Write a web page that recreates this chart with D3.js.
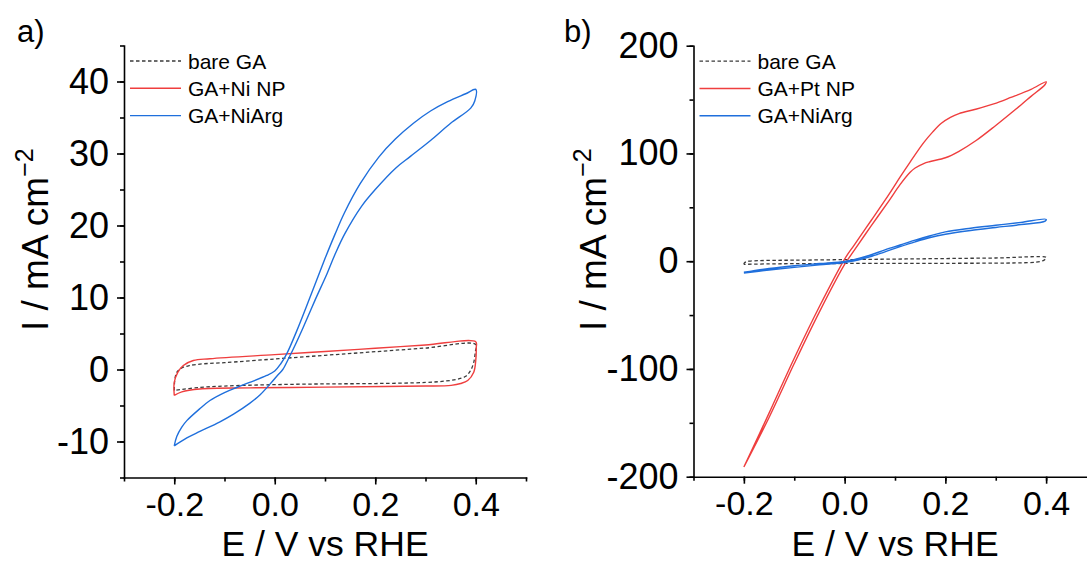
<!DOCTYPE html>
<html>
<head>
<meta charset="utf-8">
<script src="https://cdn.jsdelivr.net/npm/d3@7"></script>
<style>
	body { margin: 0; background: #fff; }
	svg { display: block; font-family: Arial, 'Liberation Sans', sans-serif; }
</style>
</head>
<body>
<script>
// cyclic voltammograms, [E (V vs RHE), I (mA cm-2)]
var bareGA = [[-0.2,-2.9],[-0.199,-1.5],[-0.195,-0.4],[-0.187,0.15],[-0.17,0.55],[-0.14,0.8],[-0.1,0.95],[0.0,1.46],[0.1,1.97],[0.2,2.47],[0.3,2.98],[0.4,3.48],
	[0.399,2.4],[0.396,1.0],[0.39,-0.1],[0.38,-0.95],[0.363,-1.35],[0.34,-1.6],[0.3,-1.8],[0.2,-1.95],[0.1,-2.0],[0.0,-2.1],[-0.1,-2.3],[-0.15,-2.5],[-0.2,-2.9]];

var niNP = [[-0.2,-3.6],[-0.2,-1.8],[-0.193,-0.4],[-0.182,0.56],[-0.162,1.25],[-0.129,1.5],[0.0,2.07],[0.1,2.5],[0.2,2.95],[0.3,3.4],[0.4,3.85],
	[0.401,3.0],[0.4,1.25],[0.396,-0.37],[0.384,-1.53],[0.37,-1.95],[0.351,-2.2],[0.3,-2.3],[0.218,-2.37],[0.1,-2.45],[-0.049,-2.55],[-0.149,-2.7],[-0.185,-3.1],[-0.2,-3.6]];

var niArgA = [[-0.2,-10.6],[-0.195,-9.3],[-0.185,-8.0],[-0.175,-7.1],[-0.15,-5.5],[-0.129,-4.3],[-0.1,-3.2],[-0.076,-2.5],[-0.05,-1.8],[-0.016,-0.83],[0.0,-0.2],[0.012,0.8],[0.024,2.2],[0.044,5.4],[0.07,10.0],[0.1,15.4],[0.12,18.8],[0.139,21.8],[0.17,25.8],[0.207,29.5],[0.24,32.0],[0.276,34.2],[0.31,35.9],[0.344,37.2],[0.38,38.3],[0.4,38.9],
	[0.398,37.3],[0.39,36.3],[0.35,34.2],[0.31,31.8],[0.27,29.6],[0.241,28.0],[0.2,25.0],[0.173,22.7],[0.139,18.8],[0.12,16.0],[0.104,13.3],[0.08,9.6],[0.057,5.9],[0.04,3.3],[0.028,1.6],[0.016,0.0],[0.007,-0.7],[-0.009,-2.0],[-0.029,-3.5],[-0.05,-4.7],[-0.082,-6.2],[-0.11,-7.3],[-0.149,-8.6],[-0.175,-9.5],[-0.2,-10.6]];

var ptNP = [[-0.2,-191],[-0.15,-141],[-0.1,-90],[-0.05,-42],[0.0,2],[0.019,15],[0.053,38],[0.088,62],[0.11,78],[0.13,92],[0.157,110],[0.175,120],[0.192,128],[0.21,133.5],[0.227,137],[0.26,141],[0.296,146],[0.33,152],[0.37,159.5],[0.4,166.5],
	[0.398,164],[0.37,153],[0.35,145],[0.3,126],[0.261,112],[0.227,102],[0.2,96],[0.17,92.5],[0.157,90.6],[0.14,86.5],[0.13,82.5],[0.11,71],[0.088,56],[0.053,33],[0.019,10],[0.0,-3],[-0.05,-47],[-0.1,-95],[-0.15,-145],[-0.2,-191]];

var niArgB = [[-0.2,-10.3],[-0.15,-6.8],[-0.1,-4.2],[-0.05,-2.2],[0.0,-0.3],[0.02,1.6],[0.05,5.5],[0.08,10.5],[0.11,15],[0.14,19.5],[0.17,23.6],[0.2,27.2],[0.25,30.6],[0.3,33.3],[0.35,36],[0.4,38.9],
	[0.398,37.2],[0.35,34.0],[0.3,31.3],[0.25,28.5],[0.2,25.0],[0.17,22.0],[0.14,18.0],[0.11,13.5],[0.08,8.7],[0.05,4.0],[0.02,0.3],[0.0,-1.2],[-0.05,-3.4],[-0.1,-5.7],[-0.15,-8.2],[-0.2,-11.0]];

var xTicks = [-0.2, 0.0, 0.2, 0.4];
var yTicksA = [-10, 0, 10, 20, 30, 40];
var yTicksB = [-200, -100, 0, 100, 200];
var legendA = ['bare GA', 'GA+Ni NP', 'GA+NiArg'];
var legendB = ['bare GA', 'GA+Pt NP', 'GA+NiArg'];

var colors = { bare: '#3a3a3a', red: '#ef3e3e', blue: '#1f6fdc' };

var svg = d3.select('body').append('svg')
	.attr('width', 1087)
	.attr('height', 564);

function hyphen(s) { return s.replace('\u2212', '-'); }

function drawPanel(p) {
	var x = d3.scaleLinear().domain([-0.3, 0.5]).range([p.left, p.right]);
	var y = d3.scaleLinear().domain(p.yDomain).range([p.bottom, p.top]);

	// minor ticks
	var xMinor = d3.range(-3, 6).map(function (d) { return d / 10; });
	var yMinor = d3.range(p.yDomain[0], p.yDomain[1] + p.minor / 2, p.minor);

	svg.append('g')
		.attr('transform', 'translate(0,' + p.bottom + ')')
		.call(d3.axisBottom(x).tickValues(xMinor).tickSize(4).tickSizeOuter(0).tickFormat(''))
		.call(function (g) { g.select('.domain').remove(); });
	svg.append('g')
		.attr('transform', 'translate(' + p.left + ',0)')
		.call(d3.axisLeft(y).tickValues(yMinor).tickSize(4).tickSizeOuter(0).tickFormat(''))
		.call(function (g) { g.select('.domain').remove(); });

	// major ticks + labels
	var xAxisEl = svg.append('g')
		.attr('transform', 'translate(0,' + p.bottom + ')')
		.call(d3.axisBottom(x).tickValues(xTicks).tickSize(7).tickSizeOuter(0).tickPadding(7)
			.tickFormat(function (d) { return hyphen(d3.format('.1f')(d)); }));
	var yAxisEl = svg.append('g')
		.attr('transform', 'translate(' + p.left + ',0)')
		.call(d3.axisLeft(y).tickValues(p.yTicks).tickSize(7).tickSizeOuter(0).tickPadding(8)
			.tickFormat(function (d) { return hyphen(String(d)); }));

	xAxisEl.selectAll('text').attr('font-size', 34);
	yAxisEl.selectAll('text').attr('font-size', 36);
	[xAxisEl, yAxisEl].forEach(function (a) {
		a.selectAll('text').attr('fill', '#000').attr('font-family', null);
		a.selectAll('line, path').attr('stroke', '#000').attr('stroke-width', 1.6);
		a.select('.domain').attr('stroke-linecap', 'square');
	});
	svg.selectAll('.tick line').attr('stroke-width', 1.6);

	// curves
	var line = d3.line()
		.x(function (d) { return x(d[0]); })
		.y(function (d) { return y(d[1]); })
		.curve(d3.curveCatmullRom.alpha(0.5));

	// legend background
	svg.append('rect')
		.attr('x', p.left + 3).attr('y', p.top + 1)
		.attr('width', 168).attr('height', 80)
		.attr('fill', '#fff');

	p.series.forEach(function (s) {
		svg.append('path')
			.datum(s.data)
			.attr('d', line)
			.attr('fill', 'none')
			.attr('stroke', s.color)
			.attr('stroke-width', s.dash ? 1.3 : 1.4)
			.attr('stroke-dasharray', s.dash ? '3.5,2.5' : null)
			.attr('stroke-linejoin', 'round');
	});

	// legend
	var leg = svg.append('g').attr('transform', 'translate(' + p.left + ',' + p.top + ')');
	p.legend.forEach(function (name, i) {
		var s = p.series[i];
		var ly = 15.5 + i * 27.3;
		leg.append('line')
			.attr('x1', 6).attr('x2', 57).attr('y1', ly).attr('y2', ly)
			.attr('stroke', s.color)
			.attr('stroke-width', s.dash ? 1.3 : 1.4)
			.attr('stroke-dasharray', s.dash ? '3.5,2.5' : null);
		leg.append('text')
			.attr('x', 64).attr('y', ly + 7.5)
			.attr('font-size', 21)
			.text(name);
	});

	// axis titles
	svg.append('text')
		.attr('x', (p.left + p.right) / 2).attr('y', 556)
		.attr('text-anchor', 'middle')
		.attr('font-size', 35.5)
		.text('E / V vs RHE');

	var yt = svg.append('text')
		.attr('transform', 'translate(' + p.titleX + ',331) rotate(-90)')
		.attr('font-size', 37);
	yt.append('tspan').text('I / mA cm');
	yt.append('tspan').attr('font-size', 25).attr('dy', -15).text('\u22122');

	svg.append('text')
		.attr('x', p.labelX).attr('y', 42)
		.attr('font-size', 31)
		.text(p.label);
}

drawPanel({
	left: 124, right: 526, top: 45.5, bottom: 477.5,
	yDomain: [-15, 45], minor: 5, yTicks: yTicksA,
	titleX: 48, labelX: 17, label: 'a)',
	legend: legendA,
	series: [
		{ data: bareGA, color: colors.bare, dash: true },
		{ data: niNP, color: colors.red },
		{ data: niArgA, color: colors.blue }
	]
});

drawPanel({
	left: 693.5, right: 1096.5, top: 45.7, bottom: 476.7,
	yDomain: [-200, 200], minor: 50, yTicks: yTicksB,
	titleX: 606, labelX: 564, label: 'b)',
	legend: legendB,
	series: [
		{ data: bareGA, color: colors.bare, dash: true },
		{ data: ptNP, color: colors.red },
		{ data: niArgB, color: colors.blue }
	]
});
</script>
</body>
</html>
